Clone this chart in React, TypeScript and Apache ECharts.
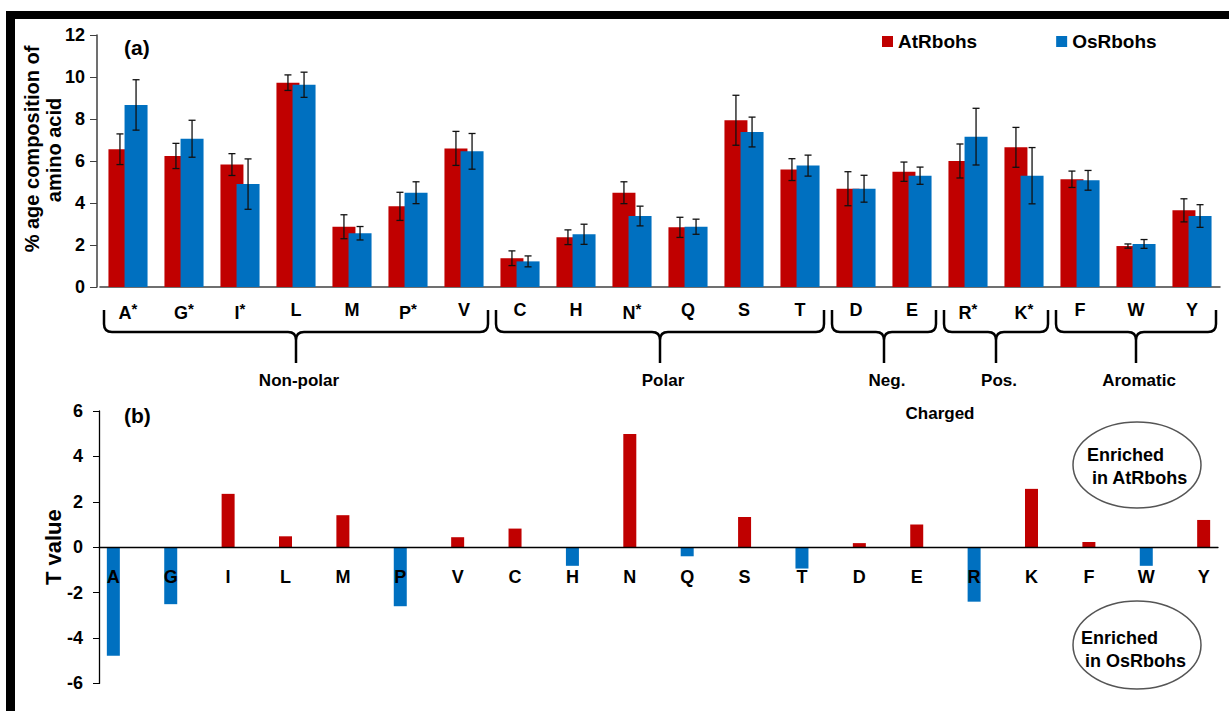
import React, { useEffect, useRef } from 'react';
import * as echarts from 'echarts';

const categories = ['A', 'G', 'I', 'L', 'M', 'P', 'V', 'C', 'H', 'N', 'Q', 'S', 'T', 'D', 'E', 'R', 'K', 'F', 'W', 'Y'];
const starred = ['A', 'G', 'I', 'P', 'N', 'R', 'K'];
const atValues = [6.56, 6.24, 5.83, 9.73, 2.87, 3.84, 6.6, 1.37, 2.37, 4.49, 2.84, 7.94, 5.59, 4.68, 5.49, 6.0, 6.65, 5.13, 1.95, 3.65];
const atErrors = [0.73, 0.6, 0.52, 0.37, 0.57, 0.67, 0.81, 0.35, 0.35, 0.52, 0.48, 1.19, 0.52, 0.81, 0.46, 0.81, 0.95, 0.39, 0.1, 0.55];
const osValues = [8.67, 7.06, 4.9, 9.63, 2.56, 4.49, 6.46, 1.22, 2.51, 3.38, 2.87, 7.38, 5.78, 4.68, 5.3, 7.16, 5.3, 5.08, 2.05, 3.38];
const osErrors = [1.2, 0.88, 1.2, 0.6, 0.32, 0.52, 0.85, 0.26, 0.48, 0.47, 0.36, 0.71, 0.5, 0.64, 0.41, 1.35, 1.34, 0.47, 0.21, 0.54];
const tValues = [-4.78, -2.51, 2.35, 0.48, 1.41, -2.6, 0.44, 0.82, -0.82, 4.99, -0.4, 1.33, -0.94, 0.18, 1.0, -2.4, 2.57, 0.23, -0.82, 1.2];
const groupNames = ['Non-polar', 'Polar', 'Neg.', 'Pos.', 'Aromatic'];
const groupFirst = [0, 7, 13, 15, 17];
const groupLast = [6, 12, 14, 16, 19];
const seriesNames = ['AtRbohs', 'OsRbohs'];
const tMin = -6;
const tMax = 6;

const RED = '#C00000';
const BLUE = '#0070C0';
const FONT = '"Liberation Sans", Arial, sans-serif';
const BAR_W = 23;
const BAR_GAP = -0.3;
const T_GRID_H = 272.4;

const Brace = echarts.graphic.extendShape({
  type: 'brace',
  shape: { x0: 0, x1: 0, y0: 0, y1: 0, y2: 0, r: 8 },
  buildPath(ctx: any, s: any) {
    const xm = (s.x0 + s.x1) / 2;
    ctx.moveTo(s.x0, s.y0);
    ctx.lineTo(s.x0, s.y1 - s.r);
    ctx.quadraticCurveTo(s.x0, s.y1, s.x0 + s.r, s.y1);
    ctx.lineTo(xm - s.r, s.y1);
    ctx.quadraticCurveTo(xm, s.y1, xm, s.y1 + s.r);
    ctx.lineTo(xm, s.y2);
    ctx.moveTo(xm, s.y1 + s.r);
    ctx.quadraticCurveTo(xm, s.y1, xm + s.r, s.y1);
    ctx.lineTo(s.x1 - s.r, s.y1);
    ctx.quadraticCurveTo(s.x1, s.y1, s.x1, s.y1 - s.r);
    ctx.lineTo(s.x1, s.y0);
  },
});
echarts.graphic.registerShape('brace', Brace);

function errSeries(vals: number[], errs: number[], off: number) {
  return {
    type: 'custom',
    xAxisIndex: 0,
    yAxisIndex: 0,
    z: 5,
    silent: true,
    encode: { x: 0, y: 1 },
    data: vals.map((v, i) => [i, v, errs[i]]),
    renderItem: (_p: any, api: any) => {
      const i = api.value(0);
      const v = api.value(1);
      const e = api.value(2);
      const top = api.coord([i, v + e]);
      const bot = api.coord([i, v - e]);
      const x = top[0] + off;
      const cap = 3.5;
      const st = { stroke: '#111', lineWidth: 1.3 };
      return {
        type: 'group',
        children: [
          { type: 'line', shape: { x1: x, y1: top[1], x2: x, y2: bot[1] }, style: st },
          { type: 'line', shape: { x1: x - cap, y1: top[1], x2: x + cap, y2: top[1] }, style: st },
          { type: 'line', shape: { x1: x - cap, y1: bot[1], x2: x + cap, y2: bot[1] }, style: st },
        ],
      };
    },
  };
}

export default function App() {
  const ref = useRef<HTMLDivElement>(null);
  useEffect(() => {
    if (!ref.current) return;
    const chart = echarts.init(ref.current, null, { renderer: 'svg' });
    const groupW = BAR_W * 2 + BAR_W * BAR_GAP;
    const offA = -groupW / 2 + BAR_W / 2;
    const offB = groupW / 2 - BAR_W / 2;

    // bottom axis: 39 slots, amino acids on even slots
    const slotNames: string[] = [];
    const slotData: any[] = [];
    categories.forEach((c, i) => {
      if (i > 0) {
        slotNames.push('');
        slotData.push('-');
      }
      slotNames.push(c);
      slotData.push({
        value: tValues[i],
        itemStyle: { color: tValues[i] >= 0 ? RED : BLUE },
      });
    });

    const bold = { fontFamily: FONT, fontWeight: 'bold' as const, color: '#000' };
    // place the category axis of panel (b) on the zero line
    const zeroOffset = -T_GRID_H * (0 - tMin) / (tMax - tMin);

    chart.setOption({
      animation: false,
      backgroundColor: '#fff',
      textStyle: { fontFamily: FONT },
      legend: {
        data: seriesNames,
        left: 877,
        top: 27,
        itemGap: 79,
        itemWidth: 11,
        itemHeight: 11,
        icon: 'rect',
        textStyle: { ...bold, fontSize: 19 },
      },
      grid: [
        { left: 100, width: 1120, top: 35, height: 252 },
        { left: 99, width: 1119, top: 411, height: T_GRID_H },
      ],
      xAxis: [
        {
          type: 'category',
          gridIndex: 0,
          data: categories,
          axisLine: { lineStyle: { color: '#404040', width: 1.5 } },
          axisTick: { alignWithLabel: true, length: 6, lineStyle: { color: '#404040' } },
          axisLabel: {
            interval: 0,
            margin: 14,
            formatter: (v: string) => (starred.includes(v) ? `{b|${v}}{s|*}` : `{b|${v}}`),
            rich: {
              b: { ...bold, fontSize: 18 },
              s: { ...bold, fontSize: 15, padding: [0, 0, 9, 0] },
            },
          },
        },
        {
          type: 'category',
          gridIndex: 1,
          data: slotNames,
          z: 10,
          offset: zeroOffset,
          axisLine: { onZero: false, lineStyle: { color: '#000', width: 1.3 } },
          axisTick: { alignWithLabel: true, interval: 0, length: 5, lineStyle: { color: '#666' } },
          axisLabel: { interval: 0, margin: 21, ...bold, fontSize: 18 },
        },
      ],
      yAxis: [
        {
          type: 'value',
          gridIndex: 0,
          min: 0,
          max: 12,
          interval: 2,
          offset: 3,
          splitLine: { show: false },
          axisLine: { show: true, lineStyle: { color: '#404040', width: 1.5 } },
          axisTick: { show: true, length: 7, lineStyle: { color: '#404040' } },
          axisLabel: { ...bold, fontSize: 18, margin: 12 },
        },
        {
          type: 'value',
          gridIndex: 1,
          min: tMin,
          max: tMax,
          interval: 2,
          splitLine: { show: false },
          axisLine: { show: true, lineStyle: { color: '#000', width: 1.3 } },
          axisTick: { show: true, length: 6, lineStyle: { color: '#000' } },
          axisLabel: { ...bold, fontSize: 18, margin: 16 },
          name: 'T value',
          nameLocation: 'middle',
          nameGap: 35,
          nameMoveOverlap: false,
          nameTextStyle: { ...bold, fontSize: 22 },
        },
      ],
      series: [
        {
          name: seriesNames[0],
          type: 'bar',
          xAxisIndex: 0,
          yAxisIndex: 0,
          data: atValues,
          barWidth: BAR_W,
          barGap: `${BAR_GAP * 100}%`,
          itemStyle: { color: RED },
        },
        {
          name: seriesNames[1],
          type: 'bar',
          xAxisIndex: 0,
          yAxisIndex: 0,
          data: osValues,
          barWidth: BAR_W,
          barGap: `${BAR_GAP * 100}%`,
          itemStyle: { color: BLUE },
        },
        errSeries(atValues, atErrors, offA),
        errSeries(osValues, osErrors, offB),
        {
          name: 'T',
          type: 'bar',
          xAxisIndex: 1,
          yAxisIndex: 1,
          data: slotData,
          barWidth: 13,
        },
      ],
    });

    // annotation graphics computed from the axis scale
    const px = (i: number) => chart.convertToPixel({ xAxisIndex: 0 }, i) as number;
    const band = px(1) - px(0);
    const inset = 4;
    const braceEls: any[] = [];
    const prongs: number[] = [];
    const txt = (text: string, x: number, y: number, size: number, align = 'left', rot = 0) => ({
      type: 'text',
      x,
      y,
      rotation: rot,
      style: { text, fill: '#000', align, verticalAlign: 'middle', font: `bold ${size}px ${FONT}`, lineHeight: 20 },
    });
    groupNames.forEach((g, k) => {
      const x0 = px(groupFirst[k]) - band / 2 + inset;
      const x1 = px(groupLast[k]) + band / 2 - inset;
      const xm = (x0 + x1) / 2;
      prongs.push(xm);
      braceEls.push({
        type: 'brace',
        shape: { x0, x1, y0: 310, y1: 332, y2: 363, r: 8 },
        style: { stroke: '#000', lineWidth: 2.5, fill: 'none' },
        silent: true,
      });
      braceEls.push(txt(g, xm + 3, 380, 17, 'center'));
    });

    chart.setOption({
      graphic: [
        { type: 'rect', shape: { x: 6, y: 11, width: 1223, height: 8 }, style: { fill: '#000' } },
        { type: 'rect', shape: { x: 6, y: 11, width: 9, height: 700 }, style: { fill: '#000' } },
        ...braceEls,
        txt('% age composition of', 32, 149, 20, 'center', Math.PI / 2),
        txt('amino acid', 54, 150, 20, 'center', Math.PI / 2),
        txt('Charged', (prongs[2] + prongs[3]) / 2, 413, 17, 'center'),
        txt('(a)', 124, 47, 21),
        txt('(b)', 124, 415, 21),
        { type: 'ellipse', shape: { cx: 1137, cy: 465, rx: 64, ry: 43 }, style: { fill: '#fff', stroke: '#555', lineWidth: 1.5 } },
        txt('Enriched', 1087, 455, 18),
        txt('in AtRbohs', 1092, 478, 18),
        { type: 'ellipse', shape: { cx: 1137, cy: 645, rx: 64, ry: 44 }, style: { fill: '#fff', stroke: '#555', lineWidth: 1.5 } },
        txt('Enriched', 1081, 638, 18),
        txt('in OsRbohs', 1085, 661, 18),
      ],
    });

    return () => chart.dispose();
  }, []);

  return <div ref={ref} style={{ position: 'absolute', left: 0, top: 0, width: 1229, height: 711 }} />;
}
